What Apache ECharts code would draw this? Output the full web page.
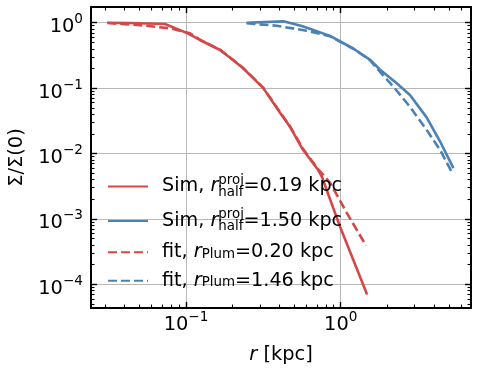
<!DOCTYPE html>
<html lang="en">
<head>
    <meta charset="UTF-8">
    <title>Surface density profiles</title>
    <script src="https://cdn.jsdelivr.net/npm/echarts@6/dist/echarts.min.js"></script>
    <style>
        html, body { margin: 0; padding: 0; background: #fff; }
        #chart { width: 479px; height: 375px; }
    </style>
</head>
<body>
<div id="chart"></div>
<script type="text/javascript">
    // radius in kpc, profile normalised to the central value
    var redSimR = [0.031, 0.0435, 0.073, 0.101, 0.123, 0.166, 0.201, 0.233, 0.315, 0.405, 0.47, 0.57, 0.713, 0.754, 0.99, 1.48];
    var redSimS = [1.0, 0.99, 0.955, 0.70, 0.545, 0.383, 0.27, 0.203, 0.101, 0.042, 0.0256, 0.0114, 0.00564, 0.00445, 0.00076, 0.00007];
    var blueSimR = [0.246, 0.425, 0.56, 0.853, 1.21, 1.55, 1.79, 2.30, 2.80, 3.59, 4.38, 5.35];
    var blueSimS = [1.0, 1.05, 0.89, 0.63, 0.40, 0.27, 0.193, 0.119, 0.0787, 0.0357, 0.0154, 0.0060];
    var redFitR = [0.031, 0.0505, 0.079, 0.106, 0.123, 0.166, 0.201, 0.233, 0.315, 0.405, 0.47, 0.57, 0.713, 0.853, 1.094, 1.458];
    var redFitS = [0.99, 0.92, 0.82, 0.69, 0.55, 0.385, 0.272, 0.205, 0.102, 0.043, 0.026, 0.0118, 0.0058, 0.00357, 0.00124, 0.00039];
    var blueFitR = [0.246, 0.386, 0.60, 0.853, 1.21, 1.55, 1.79, 2.19, 2.80, 3.59, 4.38, 5.2];
    var blueFitS = [0.98, 0.90, 0.755, 0.62, 0.40, 0.265, 0.179, 0.105, 0.052, 0.023, 0.0114, 0.0053];

    // axis ranges and ticks
    var xRange = [0.0243, 6.95];
    var yRange = [4.35e-5, 1.74];
    var xMajor = [0.1, 1];
    var xMinor = [0.03, 0.04, 0.05, 0.06, 0.07, 0.08, 0.09, 0.2, 0.3, 0.4, 0.5, 0.6, 0.7, 0.8, 0.9, 2, 3, 4, 5, 6];
    var yMajor = [1e-4, 1e-3, 1e-2, 1e-1, 1];
    var yMinor = [5e-5, 6e-5, 7e-5, 8e-5, 9e-5, 2e-4, 3e-4, 4e-4, 5e-4, 6e-4, 7e-4, 8e-4, 9e-4,
        2e-3, 3e-3, 4e-3, 5e-3, 6e-3, 7e-3, 8e-3, 9e-3, 0.02, 0.03, 0.04, 0.05, 0.06, 0.07, 0.08, 0.09,
        0.2, 0.3, 0.4, 0.5, 0.6, 0.7, 0.8, 0.9];

    var seriesNames = ['simRed', 'simBlue', 'fitRed', 'fitBlue'];
    var legendText = {
        simRed: '{a|Sim, }{ra|r}{sup|proj}{sub|half}{a|=0.19 kpc}',
        simBlue: '{a|Sim, }{ra|r}{sup|proj}{sub|half}{a|=1.50 kpc}',
        fitRed: '{f|fit, }{rf|r}{fsub|Plum}{f|=0.20 kpc}',
        fitBlue: '{f|fit, }{rf|r}{fsub|Plum}{f|=1.46 kpc}'
    };

    var red = '#d44848';
    var blue = '#4a82b5';
    var font = 'DejaVu Sans';

    function pairs(xs, ys) {
        var out = [];
        for (var i = 0; i < xs.length; i++) {
            out.push([xs[i], ys[i]]);
        }
        return out;
    }

    function expLabel(v) {
        var e = Math.round(Math.log(v) / Math.LN10);
        return '{b|10}{s|' + (e < 0 ? '\u2212' + (-e) : e) + '}';
    }

    var labelRich = {
        b: {fontSize: 19.4, fontFamily: font, color: '#000', lineHeight: 24, verticalAlign: 'bottom'},
        s: {fontSize: 13.6, fontFamily: font, color: '#000', lineHeight: 10, verticalAlign: 'top'}
    };

    // one log axis; major axes carry the frame, minor ones only short ticks
    function logAxis(range, pos, ticks, major, labels) {
        return {
            type: 'log',
            logBase: 10,
            position: pos,
            min: range[0],
            max: range[1],
            axisLine: {show: major, onZero: false, lineStyle: {color: '#000', width: 2}},
            axisTick: {
                show: true,
                inside: true,
                length: major ? 6 : 3.5,
                customValues: ticks,
                lineStyle: {color: '#000', width: major ? 1.4 : 1.1}
            },
            minorTick: {show: false},
            axisLabel: labels ? {
                show: true,
                customValues: ticks,
                formatter: expLabel,
                rich: labelRich,
                margin: (pos === 'bottom') ? 2 : 8,
                padding: (pos === 'bottom') ? 0 : [4, 0, 0, 0]
            } : {show: false},
            splitLine: {show: labels, lineStyle: {color: '#b8b8b8', width: 1}},
            minorSplitLine: {show: false}
        };
    }

    var xAxes = [
        logAxis(xRange, 'bottom', xMajor, true, true),
        logAxis(xRange, 'top', xMajor, true, false),
        logAxis(xRange, 'bottom', xMinor, false, false),
        logAxis(xRange, 'top', xMinor, false, false)
    ];
    xAxes[0].name = '{i|r} [kpc]';
    xAxes[0].nameLocation = 'middle';
    xAxes[0].nameGap = 37;
    xAxes[0].nameTextStyle = {
        fontSize: 19.4, fontFamily: font, color: '#000',
        rich: {i: {fontSize: 19.4, fontFamily: font, fontStyle: 'italic', color: '#000'}}
    };

    var yAxes = [
        logAxis(yRange, 'left', yMajor, true, true),
        logAxis(yRange, 'right', yMajor, true, false),
        logAxis(yRange, 'left', yMinor, false, false),
        logAxis(yRange, 'right', yMinor, false, false)
    ];
    yAxes[0].name = '\u03a3/\u03a3(0)';
    yAxes[0].nameLocation = 'middle';
    yAxes[0].nameGap = 65;
    yAxes[0].nameTextStyle = {fontSize: 19.4, fontFamily: font, color: '#000'};

    function lineSeries(name, data, color, dashed) {
        return {
            name: name,
            type: 'line',
            data: data,
            symbol: 'none',
            showSymbol: false,
            lineStyle: {color: color, width: 2.6, type: dashed ? [9, 4] : 'solid'},
            itemStyle: {color: color},
            z: 3
        };
    }

    var myChart = echarts.init(document.getElementById('chart'));
    var option = {
        animation: false,
        backgroundColor: '#fff',
        grid: {left: 91, right: 8, top: 7, bottom: 67, containLabel: false, outerBoundsMode: 'none'},
        xAxis: xAxes,
        yAxis: yAxes,
        legend: {
            orient: 'vertical',
            left: 102,
            top: 169,
            itemWidth: 40,
            itemHeight: 10,
            itemGap: 9.4,
            data: seriesNames,
            itemStyle: {opacity: 0},
            formatter: function (name) {
                return legendText[name];
            },
            textStyle: {
                padding: [0, 0, 0, 9],
                rich: {
                    a: {fontSize: 19.2, fontFamily: font, color: '#000', lineHeight: 25, verticalAlign: 'middle'},
                    ra: {fontSize: 19.2, fontFamily: font, fontStyle: 'italic', color: '#000', lineHeight: 25, verticalAlign: 'middle'},
                    sup: {fontSize: 13.4, fontFamily: font, color: '#000', lineHeight: 5.8, verticalAlign: 'top', width: 0},
                    sub: {fontSize: 13.4, fontFamily: font, color: '#000', lineHeight: 12.4, verticalAlign: 'bottom'},
                    f: {fontSize: 19.2, fontFamily: font, color: '#000', lineHeight: 17, verticalAlign: 'middle'},
                    rf: {fontSize: 19.2, fontFamily: font, fontStyle: 'italic', color: '#000', lineHeight: 17, verticalAlign: 'middle'},
                    fsub: {fontSize: 13.4, fontFamily: font, color: '#000', lineHeight: 10.4, verticalAlign: 'bottom'}
                }
            }
        },
        series: [
            lineSeries('simRed', pairs(redSimR, redSimS), red, false),
            lineSeries('simBlue', pairs(blueSimR, blueSimS), blue, false),
            lineSeries('fitRed', pairs(redFitR, redFitS), red, true),
            lineSeries('fitBlue', pairs(blueFitR, blueFitS), blue, true)
        ]
    };
    myChart.setOption(option);
</script>
</body>
</html>
